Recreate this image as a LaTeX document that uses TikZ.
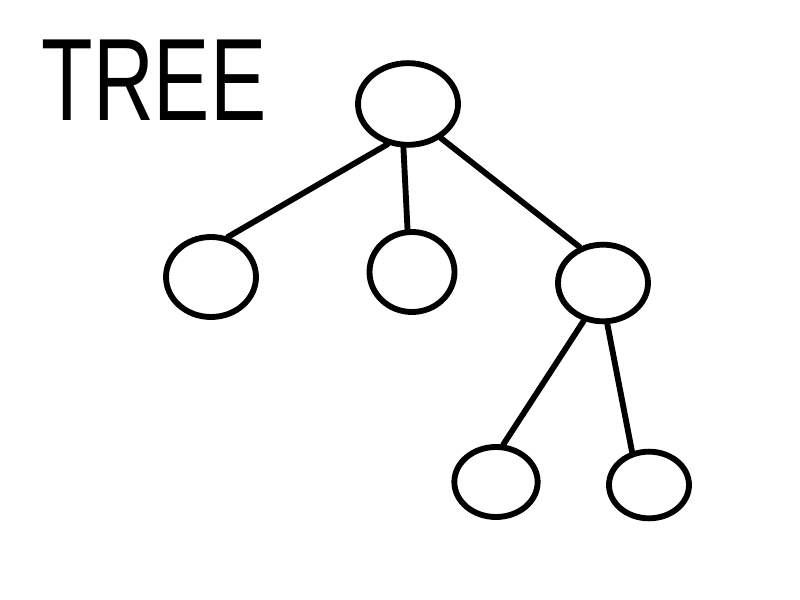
\documentclass[tikz,border=0pt]{standalone}
\usepackage{fontspec}
\setmainfont{Liberation Sans}
\usetikzlibrary{shapes.geometric}
\begin{document}
\begin{tikzpicture}[x=0.03cm,y=-0.03cm,
  tnode/.style={draw=black, ellipse, line width=5pt, inner sep=0pt},
  tedge/.style={draw=black, line width=5pt, line cap=round}]
\useasboundingbox[fill=white] (0,0) rectangle (800,600);
\node[font=\fontsize{100}{100}\selectfont, xscale=0.72, transform shape, anchor=center] (title) at (154,80) {TREE};
\node[tnode, minimum width=3.0cm, minimum height=2.45cm] (root) at (408,104) {};
\node[tnode, minimum width=2.7cm, minimum height=2.4cm] (l) at (211,277) {};
\node[tnode, minimum width=2.55cm, minimum height=2.4cm] (m) at (412,272) {};
\node[tnode, minimum width=2.7cm, minimum height=2.3cm] (r) at (603,283) {};
\node[tnode, minimum width=2.5cm, minimum height=2.1cm] (bl) at (496,482) {};
\node[tnode, minimum width=2.4cm, minimum height=2.0cm] (br) at (649,485) {};
\draw[tedge] (root.243) -- (l.67);
\draw[tedge] (root.264) -- (m.96);
\draw[tedge] (root.314) -- (r.123);
\draw[tedge] (r.243) -- (bl.79);
\draw[tedge] (r.276) -- (br.117);
\end{tikzpicture}
\end{document}
